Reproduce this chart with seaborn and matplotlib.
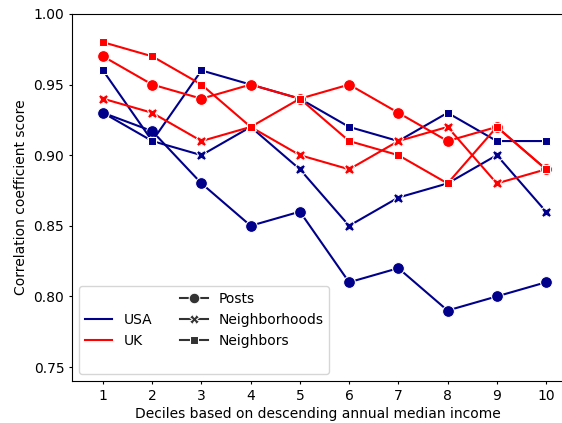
import matplotlib
matplotlib.use('Agg')

import pandas as pd
import matplotlib.pyplot as plt
import seaborn as sns

deciles = [1, 2, 3, 4, 5, 6, 7, 8, 9, 10]

usa_posts = [0.93, 0.917, 0.88, 0.85, 0.86, 0.81, 0.82, 0.79, 0.80, 0.81]
usa_neighborhoods = [0.93, 0.91, 0.90, 0.92, 0.89, 0.85, 0.87, 0.88, 0.90, 0.86]
usa_neighbors = [0.96, 0.91, 0.96, 0.95, 0.94, 0.92, 0.91, 0.93, 0.91, 0.91]

uk_posts = [0.97, 0.95, 0.94, 0.95, 0.94, 0.95, 0.93, 0.91, 0.92, 0.89]
uk_neighborhoods = [0.94, 0.93, 0.91, 0.92, 0.90, 0.89, 0.91, 0.92, 0.88, 0.89]
uk_neighbors = [0.98, 0.97, 0.95, 0.92, 0.94, 0.91, 0.90, 0.88, 0.92, 0.89]

countries = ['USA', 'UK']
types = ['Posts', 'Neighborhoods', 'Neighbors']
series = {
    ('USA', 'Posts'): usa_posts,
    ('USA', 'Neighborhoods'): usa_neighborhoods,
    ('USA', 'Neighbors'): usa_neighbors,
    ('UK', 'Posts'): uk_posts,
    ('UK', 'Neighborhoods'): uk_neighborhoods,
    ('UK', 'Neighbors'): uk_neighbors,
}

rows = []
for (c, t), vals in series.items():
    for d, v in zip(deciles, vals):
        rows.append({'decile': d, 'score': v, 'country': c, 'type': t})
df = pd.DataFrame(rows)

colors = {'USA': '#00008B', 'UK': 'red'}

fig = plt.figure(figsize=(5.62, 4.23), dpi=100)
# right edge of the axes sits past the figure edge, like the original crop
ax = fig.add_axes([72 / 562, 0.099, (564 - 72) / 562, 0.868])

sns.lineplot(data=df, x='decile', y='score', hue='country', style='type',
             hue_order=countries, style_order=types, palette=colors,
             markers=['o', 'X', 's'], dashes=False, ax=ax)

# marker sizes differ by shape in the original, and so does stacking order
msize = {'o': 8.5, 'X': 7.5, 's': 6}
zoff = {'X': 0.0, 'o': 0.1, 's': 0.2}
for ln in ax.lines:
    m = ln.get_marker()
    if m in msize:
        ln.set_markersize(msize[m])
        base = 3 if ln.get_color() == 'red' else 2
        ln.set_zorder(base + zoff[m])

ax.spines['right'].set_visible(False)
ax.set_xlim(0.37, 10.365)
ax.set_ylim(0.74, 1.0)
ax.set_xticks(deciles)
ax.tick_params(length=2.5, pad=3)
ax.set_xlabel('Deciles based on descending annual median income', labelpad=3)
ax.set_ylabel('Correlation coefficient score')

handles, labels = ax.get_legend_handles_labels()
labels = ['' if l in ('country', 'type') else l for l in labels]
leg = ax.legend(handles, labels, ncol=2, loc='lower left')
leg.set_zorder(5)
for h in leg.legend_handles:
    m = h.get_marker() if hasattr(h, 'get_marker') else None
    if m in msize:
        h.set_markersize(msize[m] * 0.9)

plt.savefig('out.png', dpi=100)
plt.close()
